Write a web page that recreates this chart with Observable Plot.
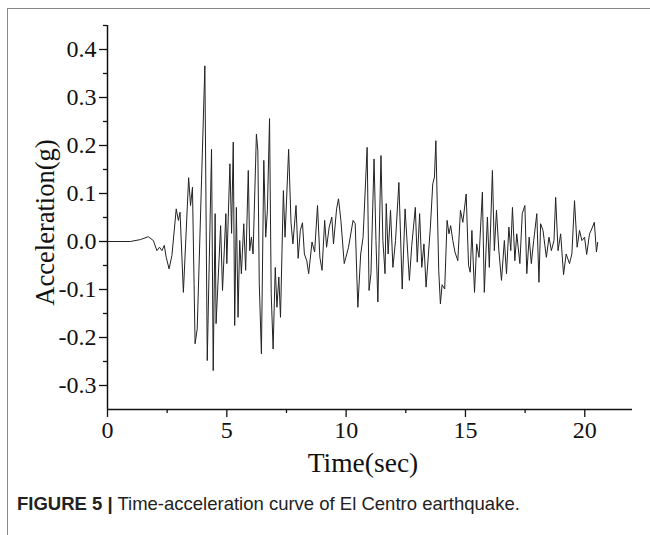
<!DOCTYPE html>
<html><head><meta charset="utf-8">
<script src="https://cdn.jsdelivr.net/npm/d3@7"></script>
<script src="https://cdn.jsdelivr.net/npm/@observablehq/plot@0.6"></script>
<style>
body{margin:0;background:#fff;}
#frame{position:absolute;left:7px;top:8px;width:650px;height:540px;border-left:1.5px solid #888;border-top:1.5px solid #888;}
#chart{position:absolute;left:0;top:0;}
#caption{position:absolute;left:17px;top:493px;font-family:"Liberation Sans",Arial,sans-serif;font-size:18.5px;color:#222;white-space:nowrap;}
</style></head><body>
<div id="frame"></div>
<div id="chart"></div>
<div id="caption"><b>FIGURE 5 |</b> Time-acceleration curve of El Centro earthquake.</div>
<script>
const time = [0.00,0.96,1.38,1.71,1.92,2.07,2.18,2.28,2.38,2.46,2.58,2.70,2.88,2.97,3.04,3.18,3.40,3.48,3.56,3.67,3.76,4.08,4.18,4.36,4.43,4.51,4.55,4.74,4.82,4.96,5.00,5.13,5.20,5.27,5.33,5.40,5.47,5.54,5.61,5.71,5.79,5.90,5.96,6.03,6.10,6.24,6.30,6.36,6.45,6.55,6.63,6.70,6.79,6.86,6.94,7.03,7.10,7.18,7.25,7.37,7.44,7.59,7.69,7.77,7.90,7.99,8.08,8.17,8.25,8.35,8.43,8.57,8.68,8.80,8.90,8.99,9.10,9.18,9.29,9.40,9.47,9.60,9.68,9.78,9.92,9.99,10.10,10.29,10.38,10.49,10.61,10.71,10.88,10.96,11.04,11.17,11.25,11.33,11.46,11.54,11.63,11.68,11.76,11.86,11.96,12.07,12.21,12.35,12.47,12.65,12.75,12.90,12.98,13.08,13.17,13.26,13.35,13.53,13.63,13.70,13.76,13.88,13.95,14.02,14.13,14.23,14.31,14.38,14.47,14.56,14.68,14.79,14.89,15.03,15.13,15.20,15.27,15.38,15.47,15.57,15.71,15.79,15.92,16.00,16.13,16.21,16.30,16.40,16.51,16.63,16.72,16.82,16.90,16.97,17.07,17.15,17.28,17.38,17.49,17.57,17.67,17.76,17.86,17.99,18.08,18.15,18.25,18.39,18.50,18.60,18.71,18.78,18.88,18.99,19.11,19.22,19.36,19.46,19.57,19.68,19.78,19.88,19.99,20.08,20.20,20.29,20.40,20.49,20.54];
const accel = [0.000,0.000,0.004,0.010,0.002,-0.019,-0.012,-0.019,-0.008,-0.033,-0.057,-0.029,0.068,0.044,0.061,-0.106,0.133,0.075,0.113,-0.213,-0.182,0.366,-0.248,0.192,-0.269,0.058,-0.171,0.033,-0.102,0.058,-0.046,0.162,0.017,0.207,-0.175,0.071,-0.158,0.002,-0.067,0.037,-0.060,0.148,-0.019,0.009,-0.026,0.224,0.190,-0.088,-0.234,0.169,0.009,0.065,0.256,-0.109,-0.224,-0.054,-0.137,-0.074,-0.158,0.106,0.009,0.192,0.040,-0.005,0.075,-0.035,0.023,0.039,-0.026,-0.040,-0.067,-0.001,-0.022,0.075,-0.033,-0.060,0.044,-0.012,0.030,0.051,-0.005,0.068,0.089,0.044,-0.046,-0.033,-0.012,0.044,0.037,-0.137,-0.026,0.009,0.196,-0.102,-0.067,0.172,0.002,-0.126,0.179,0.002,-0.067,0.079,-0.026,0.065,-0.054,0.002,0.123,-0.099,0.068,-0.081,-0.008,0.071,-0.043,0.058,-0.054,-0.005,-0.095,0.030,0.120,0.134,0.210,-0.060,-0.130,-0.090,-0.099,0.044,0.016,0.033,0.002,-0.022,-0.040,0.065,0.040,0.099,-0.050,-0.064,0.023,-0.106,-0.005,-0.033,0.103,-0.106,0.051,-0.054,0.148,-0.019,0.065,-0.019,-0.081,0.002,-0.067,0.030,-0.019,0.071,-0.040,0.016,-0.046,0.058,0.075,-0.067,0.009,-0.046,0.002,0.058,-0.085,0.037,0.023,-0.033,0.009,-0.019,0.002,0.092,-0.019,0.016,-0.069,-0.026,-0.046,-0.026,0.085,-0.012,0.023,0.002,0.009,-0.027,0.016,0.026,0.040,-0.022,-0.002];
const xTicks = [0, 5, 10, 15, 20];
const xMinor = [2.5, 7.5, 12.5, 17.5];
const yTicks = [-0.3, -0.2, -0.1, 0.0, 0.1, 0.2, 0.3, 0.4];
const yMinor = [-0.25, -0.15, -0.05, 0.05, 0.15, 0.25, 0.35, 0.45];
const xDomain = [0, 22];
const yDomain = [-0.35, 0.45];
const xLabel = "Time(sec)";
const yLabel = "Acceleration(g)";

const data = time.map((t, i) => ({t, a: accel[i]}));
const serif = '"Liberation Serif", "Times New Roman", serif';

const chart = Plot.plot({
  width: 650, height: 480,
  marginLeft: 107, marginRight: 18, marginTop: 25, marginBottom: 71,
  style: {fontFamily: serif, fontSize: "24px", color: "#111", background: "transparent", overflow: "visible"},
  x: {domain: xDomain},
  y: {domain: yDomain},
  marks: [
    Plot.axisY(yTicks, {tickSize: 8, tickPadding: 3, strokeWidth: 1.3, tickFormat: d => d.toFixed(1), fontSize: 24, label: null}),
    Plot.axisY(yMinor, {tickSize: 4, strokeWidth: 1.3, tickFormat: () => "", label: null}),
    Plot.axisX(xTicks, {tickSize: 8, tickPadding: 3, strokeWidth: 1.3, tickFormat: d => String(d), fontSize: 24, label: null}),
    Plot.axisX(xMinor, {tickSize: 4, strokeWidth: 1.3, tickFormat: () => "", label: null}),
    Plot.text([yLabel], {text: d => d, frameAnchor: "left", rotate: -90, dx: -62, dy: 5, textAnchor: "middle", lineAnchor: "middle", fontSize: 26.5, fill: "#111"}),
    Plot.text([xLabel], {text: d => d, frameAnchor: "bottom", dx: -7, dy: 54, textAnchor: "middle", lineAnchor: "middle", fontSize: 27.5, fill: "#111"}),
    Plot.ruleX([xDomain[0]], {strokeWidth: 1.5, stroke: "#111"}),
    Plot.ruleY([yDomain[0]], {strokeWidth: 1.5, stroke: "#111"}),
    Plot.line(data, {x: "t", y: "a", stroke: "#222", strokeWidth: 1})
  ]
});
document.getElementById("chart").append(chart);
</script>
</body></html>
